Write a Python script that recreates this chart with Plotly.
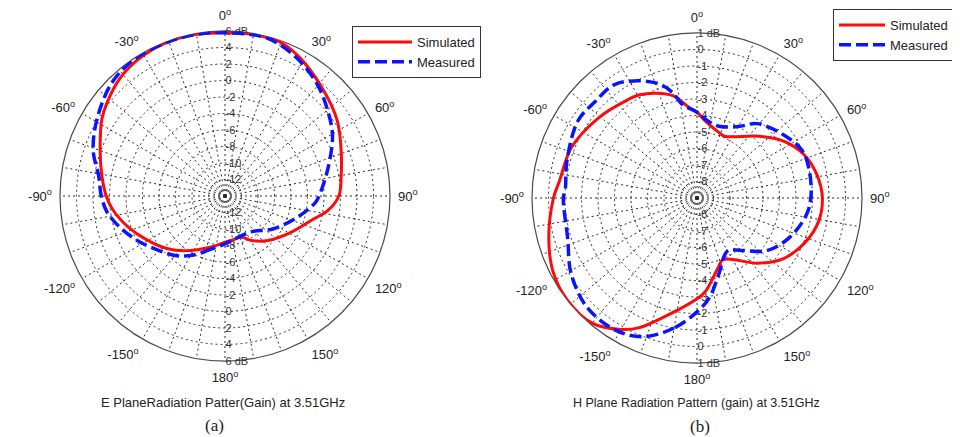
import plotly.graph_objects as go

# ---------------- data ----------------
# (a) E plane, gain in dB vs angle in degrees
e_sim_theta = [-180, -165, -144, -132, -119, -108, -97, -90, -81, -71, -58, -52, -42, -33, -22, -10,
               0, 10, 20, 28, 41, 56, 70, 80, 90, 98, 105, 120, 136, 150, 158, 170, 180]
e_sim_db = [-8.4, -7.6, -5.8, -4.5, -3.1, -1.7, -0.3, 0.4, 1.1, 2.0, 3.6, 4.2, 5.1, 5.6, 5.9, 5.9,
            5.8, 5.9, 5.8, 5.1, 3.7, 2.4, 1.0, 0.3, -0.2, -1.4, -3.0, -5.0, -6.5, -7.8, -8.6, -8.6, -8.4]

e_meas_theta = [-180, -166, -152, -140, -120, -108, -98, -90, -81, -71, -59, -45, -33, -20, -10,
                0, 15, 28, 40, 51, 61, 76, 90, 94, 106, 124, 143, 154, 166, 180]
e_meas_db = [-8.2, -7.4, -5.9, -4.6, -2.5, -0.9, 0.4, 1.0, 1.5, 2.9, 4.1, 5.4, 5.9, 5.9, 5.9,
             5.8, 5.8, 4.8, 3.5, 2.1, 0.9, -1.2, -2.6, -3.0, -4.8, -6.9, -8.6, -8.8, -8.7, -8.2]

# (b) H plane
h_sim_theta = [-180, -168, -156, -150, -140, -128, -117, -105, -90, -83, -68, -51, -36, -29, -21, -13, -5,
               0, 6, 18, 24, 45, 57, 68, 79, 90, 101, 112, 125, 137, 157, 163, 175, 180]
h_sim_db = [-2.9, -1.9, -0.4, 0.2, 0.9, 1.0, 0.8, 0.3, -0.3, -0.6, -0.8, -1.3, -1.7, -1.85, -2.2, -2.65, -3.5,
            -3.8, -4.3, -4.8, -4.9, -3.7, -2.7, -2.0, -1.6, -1.4, -1.5, -1.9, -2.6, -3.6, -4.95, -4.6, -3.3, -2.9]

h_meas_theta = [-180, -170, -159, -149, -135, -121, -107, -90, -86, -74, -57, -47, -36, -26, -18, -13, -9,
                0, 6, 17, 30, 39, 54, 66, 77, 90, 99, 113, 127, 140, 150, 164, 173, 180]
h_meas_db = [-2.1, -1.0, 0.0, 0.4, 0.4, -0.1, -0.8, -0.9, -1.0, -0.8, -0.4, -0.5, -0.5, -1.1, -1.75, -2.45, -3.25,
             -3.8, -4.2, -4.45, -4.0, -3.2, -2.5, -2.0, -2.0, -2.1, -2.3, -2.9, -3.7, -4.85, -5.3, -4.2, -2.9, -2.1]

# tick labels
angle_label_pos = [0, 30, 60, 90, 120, 150, 180, 210, 240, 270, 300, 330]
angle_labels = ["0", "30", "60", "90", "120", "150", "180", "-150", "-120", "-90", "-60", "-30"]
angle_grid = list(range(0, 360, 10))

e_range = [-14, 6]
e_ring_vals = [-12, -10, -8, -6, -4, -2, 0, 2, 4, 6]
e_ring_text = ["-12", "-10", "-8", "-6", "-4", "-2", "0", "2", "4", "6 dB"]

h_range = [-9, 1]
h_ring_vals = [-8, -7, -6, -5, -4, -3, -2, -1, 0, 1]
h_ring_text = ["-8", "-7", "-6", "-5", "-4", "-3", "-2", "-1", "0", "1 dB"]

series_names = ["Simulated", "Measured"]
titles = ["E PlaneRadiation Patter(Gain) at 3.51GHz", "H Plane Radiation Pattern (gain) at 3.51GHz"]
panel_tags = ["(a)", "(b)"]

# ---------------- figure ----------------
W, H = 960, 437
OFF = 8  # page body margin: screen position = figure position + 8
SANS = "Liberation Sans, Arial, sans-serif"
RED = "#ff0a0a"
BLUE = "#0a14ff"
GRID = "#2a2a2a"
GRIDDASH = "2px,3px"


def px(x):
    return (x - OFF) / W


def py(y):
    return 1 - (y - OFF) / H


def dom(cx, cy, R):
    return dict(x=[px(cx - R), px(cx + R)], y=[py(cy + R), py(cy - R)])


ang_text = [t + "<sup>o</sup>" for t in angle_labels]

fig = go.Figure()

# base subplots (grid) need a trace to be drawn
fig.add_trace(go.Scatterpolar(r=[], theta=[], subplot="polar", showlegend=False))
fig.add_trace(go.Scatterpolar(r=[], theta=[], subplot="polar2", showlegend=False))

# curves live on the transparent overlay subplots, above the grid
fig.add_trace(go.Scatterpolar(r=e_sim_db, theta=e_sim_theta, mode="lines", name=series_names[0],
                              line=dict(color=RED, width=3, shape="spline"), subplot="polar3", legend="legend"))
fig.add_trace(go.Scatterpolar(r=e_meas_db, theta=e_meas_theta, mode="lines", name=series_names[1],
                              line=dict(color=BLUE, width=3.5, dash="12px,5px", shape="spline"),
                              subplot="polar3", legend="legend"))
fig.add_trace(go.Scatterpolar(r=h_sim_db, theta=h_sim_theta, mode="lines", name=series_names[0],
                              line=dict(color=RED, width=3, shape="spline"), subplot="polar4", legend="legend2"))
fig.add_trace(go.Scatterpolar(r=h_meas_db, theta=h_meas_theta, mode="lines", name=series_names[1],
                              line=dict(color=BLUE, width=3.5, dash="12px,5px", shape="spline"),
                              subplot="polar4", legend="legend2"))


def base_polar(domain, rng, vals, text):
    return dict(
        domain=domain,
        bgcolor="white",
        angularaxis=dict(rotation=90, direction="clockwise", tickmode="array", tickvals=angle_grid,
                         showticklabels=False, ticks="",
                         showgrid=True, gridcolor=GRID, griddash=GRIDDASH, gridwidth=1,
                         showline=True, linecolor="#4a4a4a", linewidth=1.2),
        radialaxis=dict(range=rng, angle=90, side="clockwise", tickmode="array", tickvals=vals,
                        ticktext=text, showgrid=True, gridcolor=GRID, griddash=GRIDDASH, gridwidth=1,
                        showline=False, ticks="", tickfont=dict(family=SANS, size=11, color="#333"),
                        tickangle=90),
    )


def overlay_polar(domain, rng, vals, text):
    return dict(
        domain=domain,
        bgcolor="rgba(0,0,0,0)",
        angularaxis=dict(rotation=90, direction="clockwise", tickmode="array", tickvals=angle_label_pos,
                         ticktext=ang_text, showgrid=False, showline=False,
                         ticks="outside", ticklen=5, tickcolor="rgba(0,0,0,0)",
                         tickfont=dict(family=SANS, size=13, color="#222")),
        radialaxis=dict(range=rng, angle=270, side="counterclockwise", tickmode="array", tickvals=vals,
                        ticktext=text, showgrid=False, showline=False, ticks="",
                        tickfont=dict(family=SANS, size=11, color="#333"), tickangle=-90,
                        layer="below traces"),
    )


dL = dom(225, 196, 165)
dR = dom(697, 198, 165)

fig.update_layout(
    width=W, height=H,
    margin=dict(l=0, r=0, t=0, b=0),
    paper_bgcolor="white",
    font=dict(family=SANS, color="#222"),
    polar=base_polar(dL, e_range, e_ring_vals, e_ring_text),
    polar2=base_polar(dR, h_range, h_ring_vals, h_ring_text),
    polar3=overlay_polar(dL, e_range, e_ring_vals, e_ring_text),
    polar4=overlay_polar(dR, h_range, h_ring_vals, h_ring_text),
    legend=dict(x=px(352), y=py(26), xanchor="left", yanchor="top", bgcolor="white",
                bordercolor="#333", borderwidth=1, font=dict(family=SANS, size=13, color="#222"),
                tracegroupgap=0, itemwidth=54),
    legend2=dict(x=px(833), y=py(9), xanchor="left", yanchor="top", bgcolor="white",
                 bordercolor="#333", borderwidth=1, font=dict(family=SANS, size=13, color="#222"),
                 tracegroupgap=0, itemwidth=46),
    showlegend=True,
)

fig.add_annotation(x=px(223), y=py(402), xref="paper", yref="paper", text=titles[0], showarrow=False,
                   xanchor="center", yanchor="middle", font=dict(family=SANS, size=13, color="#222"))
fig.add_annotation(x=px(696), y=py(403), xref="paper", yref="paper", text=titles[1], showarrow=False,
                   xanchor="center", yanchor="middle", font=dict(family=SANS, size=12.5, color="#222"))
fig.add_annotation(x=px(214), y=py(425), xref="paper", yref="paper", text=panel_tags[0], showarrow=False,
                   xanchor="center", yanchor="middle",
                   font=dict(family="Liberation Serif, serif", size=17, color="#222"))
fig.add_annotation(x=px(700), y=py(426), xref="paper", yref="paper", text=panel_tags[1], showarrow=False,
                   xanchor="center", yanchor="middle",
                   font=dict(family="Liberation Serif, serif", size=17, color="#222"))

fig.write_html("out.html")
